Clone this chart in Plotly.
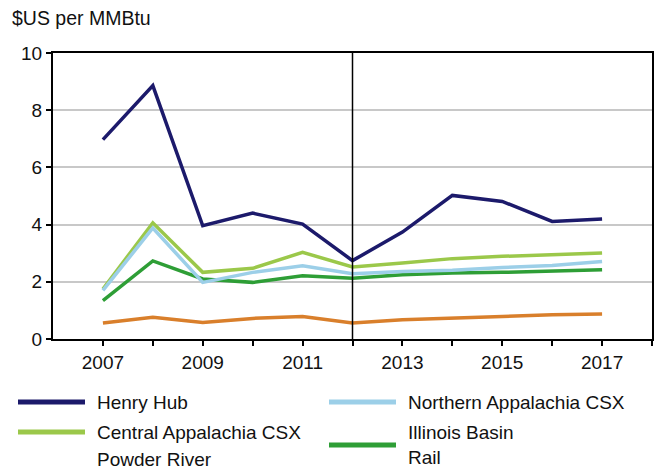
import plotly.graph_objects as go

years = list(range(2007, 2018))

henry_hub = [6.97, 8.86, 3.96, 4.40, 4.02, 2.74, 3.74, 5.02, 4.81, 4.11, 4.20]
northern_app = [1.70, 3.88, 1.98, 2.33, 2.56, 2.28, 2.36, 2.40, 2.50, 2.57, 2.71]
central_app = [1.75, 4.06, 2.33, 2.47, 3.03, 2.52, 2.66, 2.81, 2.89, 2.95, 3.01]
illinois = [1.34, 2.73, 2.10, 1.98, 2.21, 2.12, 2.25, 2.31, 2.33, 2.36, 2.42]
powder_river = [0.56, 0.76, 0.58, 0.72, 0.79, 0.56, 0.67, 0.74, 0.79, 0.85, 0.87]

names = ["Henry Hub", "Northern Appalachia CSX", "Central Appalachia CSX",
         "Illinois Basin<br>Rail", "Powder River"]
series = [henry_hub, northern_app, central_app, illinois, powder_river]
colors = ["#1c1a6b", "#9ccfe8", "#9bc84a", "#2e9e36", "#d97f2b"]

tick_years = list(range(2007, 2019))
tick_text = [str(y) if y % 2 == 1 and y < 2018 else "" for y in tick_years]
forecast_start = 2012

FONT = "Liberation Sans, Arial, sans-serif"

# plot area in pixels: x 53..652, y 53..339
L, R, T, B = 53, 652, 53, 339


def px(x):
    return (x - L) / (R - L)


def py(y):
    return (B - y) / (B - T)


fig = go.Figure()
# draw order: keep henry hub on top
for name, vals, col in reversed(list(zip(names, series, colors))):
    fig.add_trace(go.Scatter(x=years, y=vals, mode="lines", name=name,
                             line=dict(color=col, width=3.5), showlegend=False))

fig.add_vline(x=forecast_start, line=dict(color="black", width=1.5))

# legend drawn by hand: two columns, last row is cut at the bottom edge
# (its swatch falls below the image in the original)
legend_pos = [(18, 85, 95, 402), (329, 396, 406, 402), (18, 85, 95, 432),
              (329, 396, 406, 445), (18, 85, 95, 459)]
show_swatch = [True, True, True, True, False]
for (x0, x1, xt, yc), name, col, sw in zip(legend_pos, names, colors, show_swatch):
    if sw:
        fig.add_shape(type="line", xref="paper", yref="paper",
                      x0=px(x0), x1=px(x1), y0=py(yc), y1=py(yc),
                      line=dict(color=col, width=5))
    fig.add_annotation(text=name, xref="paper", yref="paper", x=px(xt), y=py(yc),
                       xanchor="left", yanchor="middle", showarrow=False, align="left",
                       font=dict(size=19, color="#111111", family=FONT))

fig.add_annotation(text="$US per MMBtu", xref="paper", yref="paper", x=px(10), y=py(18),
                   xanchor="left", yanchor="middle", showarrow=False,
                   font=dict(size=19.5, color="#111111", family=FONT))

fig.update_layout(
    width=660, height=469,
    margin=dict(l=L, r=660 - R, t=T, b=469 - B),
    plot_bgcolor="white", paper_bgcolor="white",
    font=dict(family=FONT, size=19, color="#111111"),
    showlegend=False,
    xaxis=dict(range=[2006, 2018], tickvals=tick_years, ticktext=tick_text,
               ticks="outside", ticklen=5, tickwidth=1.5, tickcolor="black",
               showline=True, linecolor="black", linewidth=2, mirror=True,
               showgrid=False, zeroline=False, automargin=False),
    yaxis=dict(range=[0, 10], dtick=2, ticks="outside", ticklen=5, tickwidth=1.5,
               tickcolor="black", showline=True, linecolor="black", linewidth=2,
               mirror=True, gridcolor="#c8c8c8", gridwidth=1.5, zeroline=False,
               automargin=False),
)

fig.write_html("out.html", config={"displayModeBar": False},
               post_script="document.body.style.margin='0';document.body.style.overflow='hidden';")
